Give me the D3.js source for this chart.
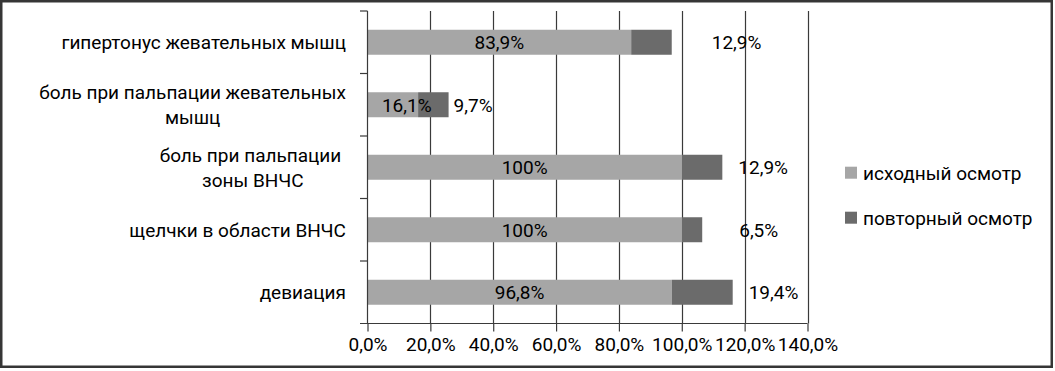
<!DOCTYPE html>
<html>
<head>
<meta charset="utf-8">
<script src="https://cdn.jsdelivr.net/npm/d3@7/dist/d3.min.js"></script>
<style>
  body { margin: 0; background: #fff; }
  text { font-family: Roboto, "Noto Sans", sans-serif; fill: #000; }
</style>
</head>
<body>
<div id="chart"></div>
<script>
// categories, top to bottom (line breaks as in the original)
var categories = [
  ["гипертонус жевательных мышц"],
  ["боль при пальпации жевательных", "мышц"],
  ["боль при пальпации ", "зоны ВНЧС"],
  ["щелчки в области ВНЧС"],
  ["девиация"]
];
var seriesNames = ["исходный осмотр", "повторный осмотр"];
var initial = [83.9, 16.1, 100, 100, 96.8];
var repeat = [12.9, 9.7, 12.9, 6.5, 19.4];
var initialLabels = ["83,9%", "16,1%", "100%", "100%", "96,8%"];
var repeatLabels = ["12,9%", "9,7%", "12,9%", "6,5%", "19,4%"];
var xTicks = [0, 20, 40, 60, 80, 100, 120, 140];

// labels were dragged by hand in the original, keep the nudges here
var initialNudge = [0, 14, 0, 0, 0];
var repeatNudge = [40, 5, 16, 37, 16];

var width = 1055, height = 371;
var colors = ["#a6a6a6", "#6b6b6b"];
var fontSize = 19;

var svg = d3.select("#chart").append("svg")
  .attr("width", width)
  .attr("height", height);

svg.append("rect")
  .attr("x", 1.25).attr("y", 1.25)
  .attr("width", 1050.5).attr("height", 365.5)
  .attr("fill", "#fff")
  .attr("stroke", "#363636")
  .attr("stroke-width", 2.5);

var x = d3.scaleLinear().domain([0, 140]).range([367.5, 807.5]);
var y = d3.scaleBand()
  .domain(d3.range(categories.length))
  .range([11, 323.5])
  .paddingInner(0.6)
  .paddingOuter(0.3);

// vertical gridlines
svg.append("g").selectAll("line")
  .data(xTicks.filter(function(d) { return d > 0; }))
  .enter().append("line")
  .attr("x1", function(d) { return Math.round(x(d)) + 0.5; })
  .attr("x2", function(d) { return Math.round(x(d)) + 0.5; })
  .attr("y1", 11).attr("y2", 323.5)
  .attr("stroke", "#3a3a3a")
  .attr("stroke-width", 1.2);

// bars
var rows = d3.range(categories.length).map(function(i) {
  return {i: i, a: initial[i], b: repeat[i]};
});

var bars = svg.append("g").selectAll("g")
  .data(rows)
  .enter().append("g");

bars.append("rect")
  .attr("x", x(0))
  .attr("y", function(d) { return y(d.i); })
  .attr("width", function(d) { return x(d.a) - x(0); })
  .attr("height", y.bandwidth())
  .attr("fill", colors[0]);

bars.append("rect")
  .attr("x", function(d) { return x(d.a); })
  .attr("y", function(d) { return y(d.i); })
  .attr("width", function(d) { return x(d.a + d.b) - x(d.a); })
  .attr("height", y.bandwidth())
  .attr("fill", colors[1]);

bars.append("text")
  .attr("x", function(d) { return (x(0) + x(d.a)) / 2 + initialNudge[d.i]; })
  .attr("y", function(d) { return y(d.i) + y.bandwidth() / 2; })
  .attr("dy", "0.36em")
  .attr("text-anchor", "middle")
  .style("font-size", fontSize + "px")
  .text(function(d) { return initialLabels[d.i]; });

bars.append("text")
  .attr("x", function(d) { return x(d.a + d.b) + repeatNudge[d.i]; })
  .attr("y", function(d) { return y(d.i) + y.bandwidth() / 2; })
  .attr("dy", "0.36em")
  .style("font-size", fontSize + "px")
  .text(function(d) { return repeatLabels[d.i]; });

// axes
var xAxis = d3.axisBottom(x)
  .tickValues(xTicks)
  .tickSize(8)
  .tickFormat(function(d) { return d.toFixed(1).replace(".", ",") + "%"; });

var gx = svg.append("g")
  .attr("transform", "translate(0,323.5)")
  .call(xAxis);
gx.select(".domain").remove();
gx.append("line")
  .attr("x1", 360).attr("x2", x(140)).attr("y1", 0).attr("y2", 0)
  .attr("stroke", "#3a3a3a").attr("stroke-width", 1.2);
gx.selectAll(".tick line").attr("stroke", "#3a3a3a").attr("stroke-width", 1.2);
gx.selectAll(".tick text")
  .attr("y", 21)
  .attr("dy", "0.36em")
  .style("font-size", fontSize + "px")
  .attr("font-family", null);

// category axis: line at 0 and ticks on band boundaries
var gy = svg.append("g");
gy.append("line")
  .attr("x1", x(0)).attr("x2", x(0))
  .attr("y1", 11).attr("y2", 323.5)
  .attr("stroke", "#3a3a3a").attr("stroke-width", 1.2);
gy.selectAll(".cat-tick")
  .data(d3.range(categories.length))
  .enter().append("line")
  .attr("class", "cat-tick")
  .attr("x1", 360).attr("x2", x(0))
  .attr("y1", function(d) { return y(d) - y.step() * y.paddingOuter(); })
  .attr("y2", function(d) { return y(d) - y.step() * y.paddingOuter(); })
  .attr("stroke", "#3a3a3a").attr("stroke-width", 1.2);

// category labels: block right-aligned to the axis, lines centered
var lineHeight = 25;
categories.forEach(function(lines, i) {
  var g = gy.append("g");
  var texts = g.selectAll("text")
    .data(lines)
    .enter().append("text")
    .attr("text-anchor", "middle")
    .style("white-space", "pre")
    .style("font-size", fontSize + "px")
    .text(function(d) { return d; });
  var maxW = d3.max(texts.nodes(), function(n) { return n.getComputedTextLength(); });
  var cx = 346 - maxW / 2;
  var cy = y(i) + y.bandwidth() / 2 - (lines.length - 1) * lineHeight / 2;
  texts
    .attr("x", cx)
    .attr("y", function(d, k) { return cy + k * lineHeight; })
    .attr("dy", "0.36em");
});

// legend
var legend = svg.append("g").selectAll("g")
  .data(seriesNames)
  .enter().append("g")
  .attr("transform", function(d, i) { return "translate(845," + (166.7 + i * 45) + ")"; });
legend.append("rect")
  .attr("width", 12).attr("height", 12)
  .attr("fill", function(d, i) { return colors[i]; });
legend.append("text")
  .attr("x", 18).attr("y", 6)
  .attr("dy", "0.36em")
  .style("font-size", "19px")
  .text(function(d) { return d; });
</script>
</body>
</html>
